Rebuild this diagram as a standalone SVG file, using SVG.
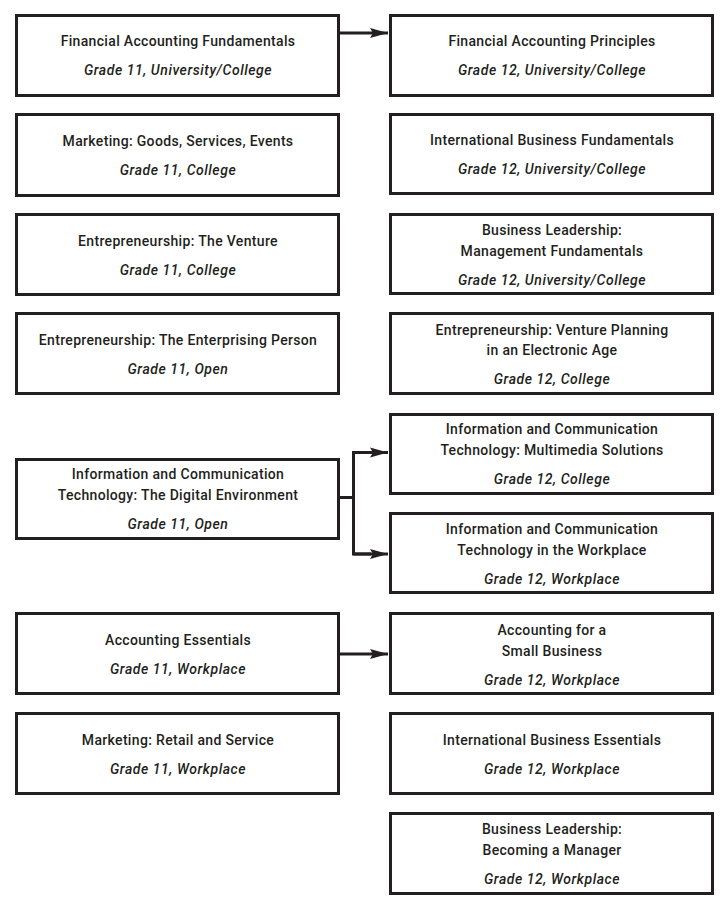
<svg xmlns="http://www.w3.org/2000/svg" width="728" height="922" viewBox="0 0 728 922">
<style>
.box{fill:#fff;stroke:#231f20;stroke-width:3}
.t{font-family:Roboto,"Liberation Sans",sans-serif;font-weight:500;font-size:14px;fill:#231f20;text-anchor:middle;letter-spacing:0.33px}
.g{font-family:Roboto,"Liberation Sans",sans-serif;font-weight:500;font-style:italic;font-size:14px;fill:#231f20;text-anchor:middle;letter-spacing:0.55px}
.c{fill:none;stroke:#231f20;stroke-width:3}
</style>
<defs>
<marker id="ah" markerUnits="userSpaceOnUse" markerWidth="20" markerHeight="12" refX="18" refY="6" orient="auto">
<path d="M0,1 L18,6 L0,11 L3,6 z" fill="#231f20"/>
</marker>
</defs>
<rect width="728" height="922" fill="#fff"/>
<g id="connectors">
<path class="c" d="M340,33 H388" marker-end="url(#ah)"/>
<path class="c" d="M340,497.5 H353.5"/>
<path class="c" d="M371,452.5 H353.5 V554 H371"/>
<path class="c" d="M353.5,452.5 H388" marker-end="url(#ah)"/>
<path class="c" d="M353.5,554 H388" marker-end="url(#ah)"/>
<path class="c" d="M340,654 H388" marker-end="url(#ah)"/>
</g>
<g id="L1"><rect class="box" x="16.5" y="15.5" width="322" height="80"/>
<text class="t" x="178" y="46">Financial Accounting Fundamentals</text>
<text class="g" x="178" y="75">Grade 11, University/College</text></g>
<g id="R1"><rect class="box" x="390.5" y="15.5" width="322" height="80"/>
<text class="t" x="552" y="46">Financial Accounting Principles</text>
<text class="g" x="552" y="75">Grade 12, University/College</text></g>
<g id="L2"><rect class="box" x="16.5" y="114.5" width="322" height="81"/>
<text class="t" x="178" y="146">Marketing: Goods, Services, Events</text>
<text class="g" x="178" y="175">Grade 11, College</text></g>
<g id="R2"><rect class="box" x="390.5" y="114.5" width="322" height="79"/>
<text class="t" x="552" y="145">International Business Fundamentals</text>
<text class="g" x="552" y="174">Grade 12, University/College</text></g>
<g id="L3"><rect class="box" x="16.5" y="214.5" width="322" height="80"/>
<text class="t" x="178" y="246">Entrepreneurship: The Venture</text>
<text class="g" x="178" y="275">Grade 11, College</text></g>
<g id="R3"><rect class="box" x="390.5" y="214.5" width="322" height="79"/>
<text class="t" x="552" y="235">Business Leadership:</text>
<text class="t" x="552" y="256">Management Fundamentals</text>
<text class="g" x="552" y="285">Grade 12, University/College</text></g>
<g id="L4"><rect class="box" x="16.5" y="313.5" width="322" height="80"/>
<text class="t" x="178" y="345">Entrepreneurship: The Enterprising Person</text>
<text class="g" x="178" y="374">Grade 11, Open</text></g>
<g id="R4"><rect class="box" x="390.5" y="313.5" width="322" height="80"/>
<text class="t" x="552" y="335">Entrepreneurship: Venture Planning</text>
<text class="t" x="552" y="355">in an Electronic Age</text>
<text class="g" x="552" y="384">Grade 12, College</text></g>
<g id="R5"><rect class="box" x="390.5" y="414.5" width="322" height="79"/>
<text class="t" x="552" y="434">Information and Communication</text>
<text class="t" x="552" y="455">Technology: Multimedia Solutions</text>
<text class="g" x="552" y="484">Grade 12, College</text></g>
<g id="L5"><rect class="box" x="16.5" y="459.5" width="322" height="79"/>
<text class="t" x="178" y="479">Information and Communication</text>
<text class="t" x="178" y="500">Technology: The Digital Environment</text>
<text class="g" x="178" y="529">Grade 11, Open</text></g>
<g id="R6"><rect class="box" x="390.5" y="513.5" width="322" height="79"/>
<text class="t" x="552" y="534">Information and Communication</text>
<text class="t" x="552" y="555">Technology in the Workplace</text>
<text class="g" x="552" y="584">Grade 12, Workplace</text></g>
<g id="L7"><rect class="box" x="16.5" y="613.5" width="322" height="80"/>
<text class="t" x="178" y="645">Accounting Essentials</text>
<text class="g" x="178" y="674">Grade 11, Workplace</text></g>
<g id="R7"><rect class="box" x="390.5" y="613.5" width="322" height="80"/>
<text class="t" x="552" y="635">Accounting for a</text>
<text class="t" x="552" y="656">Small Business</text>
<text class="g" x="552" y="685">Grade 12, Workplace</text></g>
<g id="L8"><rect class="box" x="16.5" y="713.5" width="322" height="80"/>
<text class="t" x="178" y="745">Marketing: Retail and Service</text>
<text class="g" x="178" y="774">Grade 11, Workplace</text></g>
<g id="R8"><rect class="box" x="390.5" y="713.5" width="322" height="80"/>
<text class="t" x="552" y="745">International Business Essentials</text>
<text class="g" x="552" y="774">Grade 12, Workplace</text></g>
<g id="R9"><rect class="box" x="390.5" y="813.5" width="322" height="80"/>
<text class="t" x="552" y="834">Business Leadership:</text>
<text class="t" x="552" y="855">Becoming a Manager</text>
<text class="g" x="552" y="884">Grade 12, Workplace</text></g>
</svg>
